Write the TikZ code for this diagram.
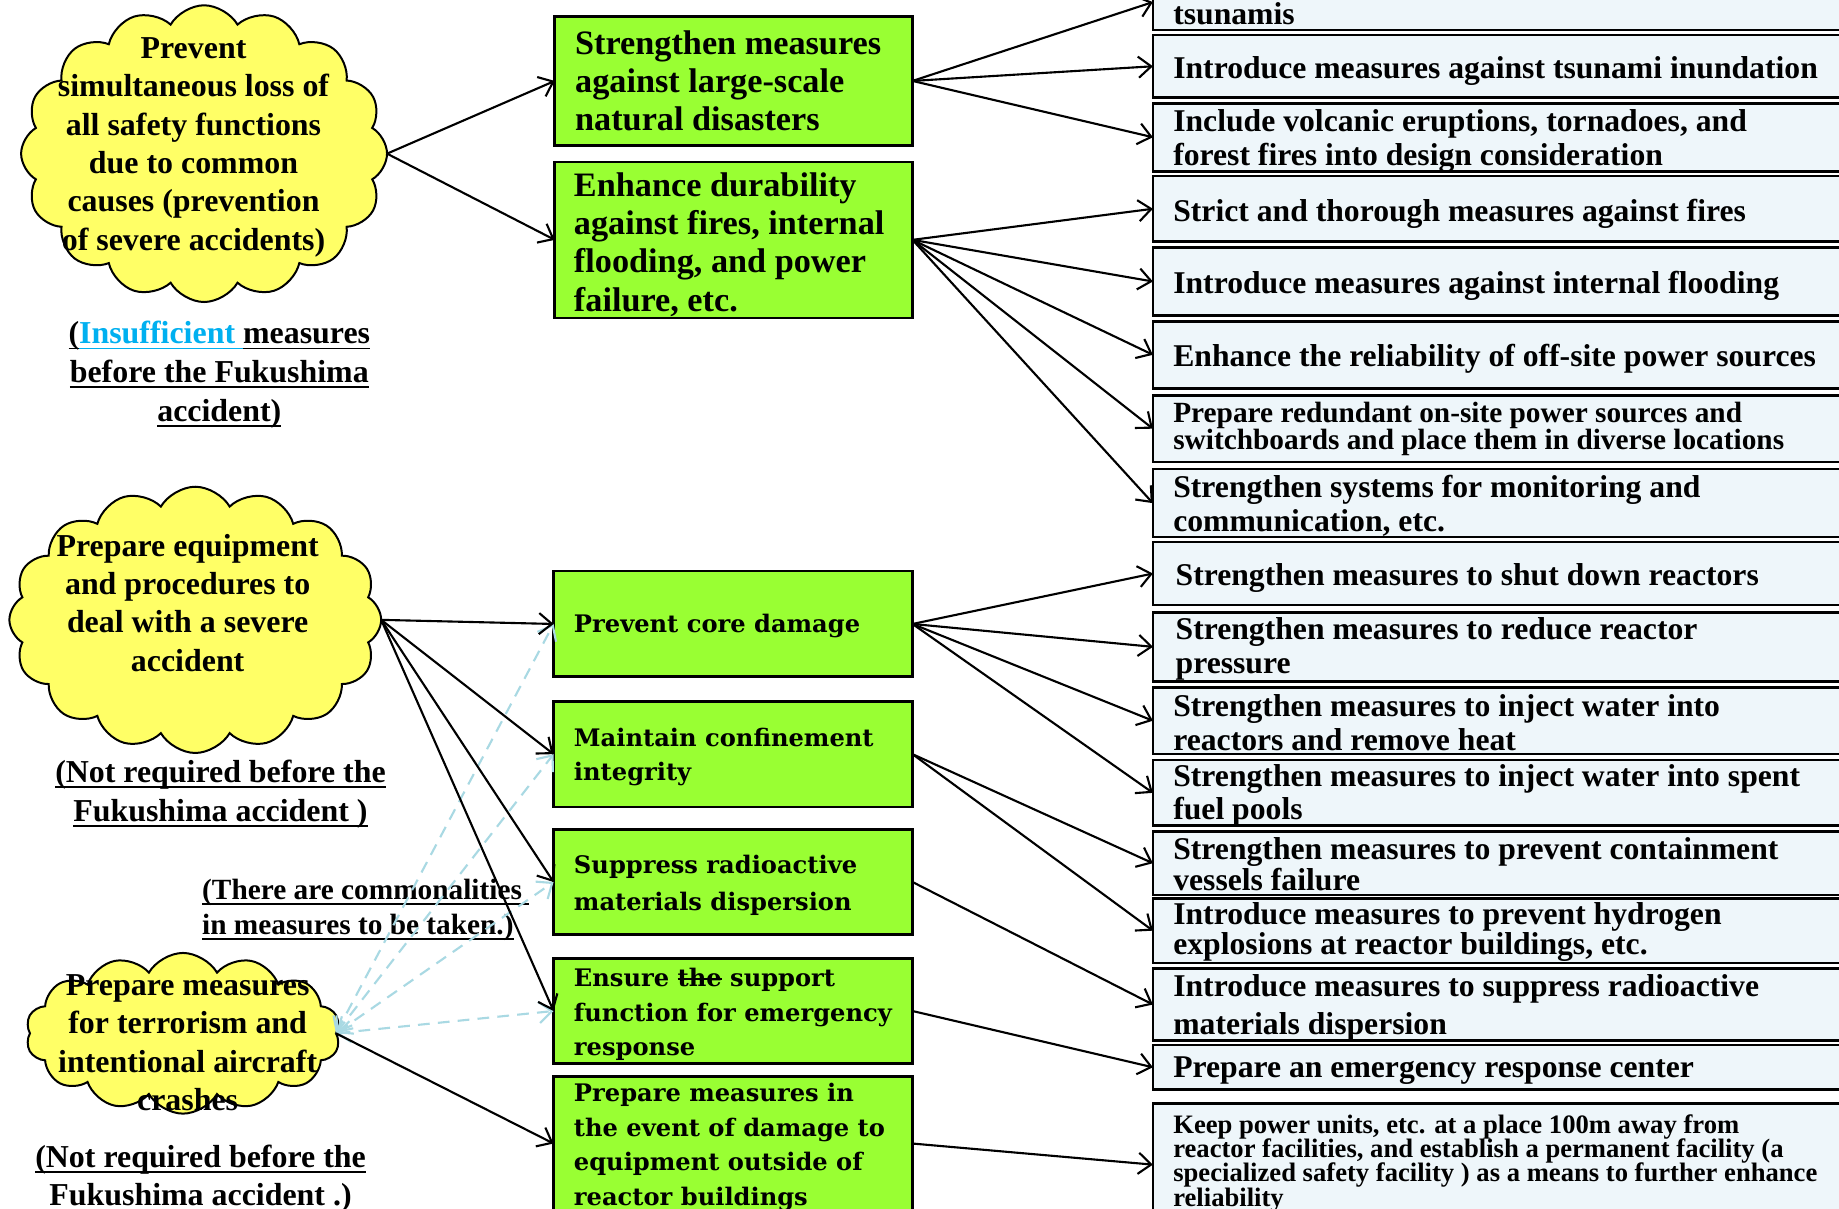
\documentclass[tikz,border=0pt]{standalone}
\usepackage{fontspec}
\setmainfont{Liberation Serif}
\newfontfamily\dvserif{DejaVu Serif}
\usetikzlibrary{shapes.symbols,arrows.meta}
\definecolor{cloudyellow}{HTML}{FFFF66}
\definecolor{boxgreen}{HTML}{99FF33}
\definecolor{boxblue}{HTML}{EEF6FA}
\definecolor{dashblue}{HTML}{A9D9E3}
\definecolor{insuff}{HTML}{00B0F0}
\newcommand\myul[1]{\setbox0\hbox{#1}\rlap{\rule[-2.3pt]{\wd0}{0.75pt}}\box0\relax}
\newcommand\mystrike[1]{\setbox0\hbox{#1}\rlap{\rule[0.28em]{\wd0}{0.7pt}}\box0\relax}
\lineskiplimit=-30pt
\begin{document}
\lineskiplimit=-30pt
\begin{tikzpicture}[x=0.5pt,y=-0.5pt,
  cloudnode/.style={cloud, cloud puffs=16, cloud puff arc=120, cloud ignores aspect, draw=black, line width=0.85pt, fill=cloudyellow, inner sep=0pt, outer sep=0pt},
  gbox/.style={rectangle, draw=black, line width=1.1pt, fill=boxgreen, inner sep=0pt, outer sep=0pt, minimum width=152.5pt},
  rbox/.style={rectangle, draw=black, line width=1.1pt, fill=boxblue, inner sep=0pt, outer sep=0pt, minimum width=318.5pt},
  ctext/.style={align=center, inner sep=0pt, font=\bfseries\fontsize{13.6}{16.4}\selectfont},
  captext/.style={align=center, inner sep=0pt, font=\bfseries\fontsize{13.6}{16.5}\selectfont},
  gtxt/.style={anchor=west, align=left, inner sep=0pt, font=\bfseries\fontsize{14.6}{16.3}\selectfont},
  gtxtw/.style={anchor=west, align=left, inner sep=0pt, font=\dvserif\bfseries\fontsize{10.3}{14.8}\selectfont},
  rtxt/.style={anchor=west, align=left, inner sep=0pt, font=\bfseries\fontsize{13.5}{14.5}\selectfont},
  arr/.style={-{Straight Barb[length=5.5pt,width=9pt]}, line width=0.9pt, draw=black},
  darr/.style={{Straight Barb[length=5.5pt,width=9pt]}-{Straight Barb[length=5.5pt,width=9pt]}, line width=0.9pt, draw=dashblue, dash pattern=on 5pt off 3.5pt},
]
\useasboundingbox (0,0) rectangle (1568,1030);
\clip (0,0) rectangle (1568,1030);
\fill[white] (0,0) rectangle (1568,1030);

% clouds
\node[cloudnode, minimum width=156pt, minimum height=126.5pt] (c1) at (174,131) {};
\node[ctext] (c1t) at (165,125.5) {Prevent\\simultaneous loss of\\all safety functions\\due to common\\causes (prevention\\of severe accidents)};
\node[cloudnode, minimum width=158.5pt, minimum height=113.5pt] (c2) at (166.5,528.5) {};
\node[ctext] (c2t) at (160,514) {Prepare equipment\\and procedures to\\deal with a severe\\accident};
\node[cloudnode, cloud puffs=14, minimum width=134pt, minimum height=68.5pt] (c3) at (156,881) {};
\node[ctext] (c3t) at (160,889) {Prepare measures\\for terrorism and\\intentional aircraft\\crashes};

% captions
\node[captext] (cap1) at (187,319.5) {\myul{(}\textcolor{insuff}{\myul{Insufficient\ }}\myul{measures}\\\myul{before the Fukushima}\\\myul{accident)}};
\node[captext] (cap2) at (188,677) {\myul{(Not required before the}\\\myul{Fukushima accident )}};
\node[captext] (cap3) at (171,1005) {\myul{(Not required before the}\\\myul{Fukushima accident .)}};
\node[anchor=west, align=left, inner sep=0pt, font=\bfseries\fontsize{12.5}{15}\selectfont] (comm) at (172,776) {\myul{(There are commonalities\ }\\\myul{in measures to be taken.)}};

% green boxes
\node[gbox, minimum height=55pt] (g1) at (625.5,69) {};
\node[gtxt] (g1t) at ([xshift=8.5pt]g1.west) {Strengthen measures\\against large-scale\\natural disasters};
\node[gbox, minimum height=66.5pt] (g2) at (625.5,204.5) {};
\node[gtxt] (g2t) at ([xshift=8pt,yshift=-2pt]g2.west) {Enhance durability\\against fires, internal\\flooding, and power\\failure, etc.};
\node[gbox, minimum width=153pt, minimum height=45pt] (g3) at (625,532) {};
\node[gtxtw] (g3t) at ([xshift=8.5pt,yshift=-1pt]g3.west) {Prevent core damage};
\node[gbox, minimum width=153pt, minimum height=45pt] (g4) at (625,643) {};
\node[gtxtw] (g4t) at ([xshift=8.5pt,yshift=-1.2pt]g4.west) {Maintain confinement\\integrity};
\node[gbox, minimum width=153pt, minimum height=45pt] (g5) at (625,752) {};
\node[gtxtw, font=\dvserif\bfseries\fontsize{10.3}{16}\selectfont] (g5t) at ([xshift=8.5pt,yshift=-1.5pt]g5.west) {Suppress radioactive\\materials dispersion};
\node[gbox, minimum width=153pt, minimum height=45pt] (g6) at (625,862) {};
\node[gtxtw] (g6t) at ([xshift=8.5pt,yshift=-1.5pt]g6.west) {Ensure \mystrike{the} support\\function for emergency\\response};
\node[gbox, minimum width=153pt, minimum height=57pt] (g7) at (625,975) {};
\node[gtxtw] (g7t) at ([xshift=8.5pt,yshift=-1.5pt]g7.west) {Prepare measures in\\the event of damage to\\equipment outside of\\reactor buildings};

% right boxes
\node[rbox, minimum height=23.75pt] (b1) at (1301.5,1.75) {};
\node[rtxt, anchor=base west] (t1) at ([xshift=8.5pt,yshift=2.5pt]b1.south west) {tsunamis};
\node[rbox, minimum height=26.5pt] (b2) at (1301.5,56.5) {};
\node[rtxt] (t2) at ([xshift=8.5pt,yshift=-2pt]b2.west) {Introduce measures against tsunami inundation};
\node[rbox, minimum height=29pt] (b3) at (1301.5,117) {};
\node[rtxt] (t3) at ([xshift=8.5pt,yshift=-1.5pt]b3.west) {Include volcanic eruptions, tornadoes, and\\forest fires into design consideration};
\node[rbox, minimum height=28pt] (b4) at (1301.5,178) {};
\node[rtxt] (t4) at ([xshift=8.5pt,yshift=-2pt]b4.west) {Strict and thorough measures against fires};
\node[rbox, minimum height=29pt] (b5) at (1301.5,240) {};
\node[rtxt] (t5) at ([xshift=8.5pt,yshift=-2pt]b5.west) {Introduce measures against internal flooding};
\node[rbox, minimum height=28.5pt] (b6) at (1301.5,302.5) {};
\node[rtxt] (t6) at ([xshift=8.5pt,yshift=-1.5pt]b6.west) {Enhance the reliability of off-site power sources};
\node[rbox, minimum height=28.5pt] (b7) at (1301.5,365.5) {};
\node[rtxt, font=\bfseries\fontsize{12.5}{11.5}\selectfont] (t7) at ([xshift=8.5pt]b7.west) {Prepare redundant on-site power sources and\\switchboards and place them in diverse locations};
\node[rbox, minimum height=29pt] (b8) at (1301.5,429) {};
\node[rtxt] (t8) at ([xshift=8.5pt,yshift=-1pt]b8.west) {Strengthen systems for monitoring and\\communication, etc.};
\node[rbox, minimum height=27pt] (b9) at (1301.5,489) {};
\node[rtxt] (t9) at ([xshift=9.5pt,yshift=-2pt]b9.west) {Strengthen measures to shut down reactors};
\node[rbox, minimum height=29.5pt] (b10) at (1301.5,551.5) {};
\node[rtxt] (t10) at ([xshift=9.5pt,yshift=-1pt]b10.west) {Strengthen measures to reduce reactor\\pressure};
\node[rbox, minimum height=28.5pt] (b11) at (1301.5,614.5) {};
\node[rtxt] (t11) at ([xshift=8.5pt,yshift=-1pt]b11.west) {Strengthen measures to inject water into\\reactors and remove heat};
\node[rbox, minimum height=28pt] (b12) at (1301.5,676) {};
\node[rtxt, font=\bfseries\fontsize{13.5}{14}\selectfont] (t12) at ([xshift=8.5pt,yshift=-1pt]b12.west) {Strengthen measures to inject water into spent\\fuel pools};
\node[rbox, minimum height=27pt] (b13) at (1301.5,736) {};
\node[rtxt, font=\bfseries\fontsize{13.5}{13}\selectfont] (t13) at ([xshift=8.5pt,yshift=-0.5pt]b13.west) {Strengthen measures to prevent containment\\vessels failure};
\node[rbox, minimum height=27.5pt] (b14) at (1301.5,793.5) {};
\node[rtxt, font=\bfseries\fontsize{13.5}{13}\selectfont] (t14) at ([xshift=8.5pt,yshift=-0.5pt]b14.west) {Introduce measures to prevent hydrogen\\explosions at reactor buildings, etc.};
\node[rbox, minimum height=30.5pt] (b15) at (1301.5,856.5) {};
\node[rtxt, font=\bfseries\fontsize{13.5}{16}\selectfont] (t15) at ([xshift=8.5pt,yshift=-1.5pt]b15.west) {Introduce measures to suppress radioactive\\materials dispersion};
\node[rbox, minimum height=19pt] (b16) at (1301.5,910) {};
\node[rtxt] (t16) at ([xshift=8.5pt,yshift=-1.5pt]b16.west) {Prepare an emergency response center};
\node[rbox, minimum height=52pt] (b17) at (1301.5,993) {};
\node[rtxt, font=\bfseries\fontsize{11.35}{10.25}\selectfont] (t17) at ([xshift=8.5pt,yshift=0.5pt]b17.west) {Keep power units, etc. at a place 100m away from\\reactor facilities, and establish a permanent facility (a\\specialized safety facility ) as a means to further enhance\\reliability};

% connectors
\draw[arr] (c1.east) -- (g1.west);
\draw[arr] (c1.east) -- (g2.west);
\draw[arr] (g1.east) -- (b1.west);
\draw[arr] (g1.east) -- (b2.west);
\draw[arr] (g1.east) -- (b3.west);
\draw[arr] (g2.east) -- (b4.west);
\draw[arr] (g2.east) -- (b5.west);
\draw[arr] (g2.east) -- (b6.west);
\draw[arr] (g2.east) -- (b7.west);
\draw[arr] (g2.east) -- (b8.west);
\draw[darr] (c3.east) -- (g3.west);
\draw[darr] (c3.east) -- (g4.west);
\draw[darr] (c3.east) -- (g5.west);
\draw[darr] (c3.east) -- (g6.west);
\draw[arr] (c2.east) -- (g3.west);
\draw[arr] (c2.east) -- (g4.west);
\draw[arr] (c2.east) -- (g5.west);
\draw[arr] (c2.east) -- (g6.west);
\draw[arr] (c3.east) -- (g7.west);
\draw[arr] (g3.east) -- (b9.west);
\draw[arr] (g3.east) -- (b10.west);
\draw[arr] (g3.east) -- (b11.west);
\draw[arr] (g3.east) -- (b12.west);
\draw[arr] (g4.east) -- (b13.west);
\draw[arr] (g4.east) -- (b14.west);
\draw[arr] (g5.east) -- (b15.west);
\draw[arr] (g6.east) -- (b16.west);
\draw[arr] (g7.east) -- (b17.west);
\end{tikzpicture}
\end{document}
